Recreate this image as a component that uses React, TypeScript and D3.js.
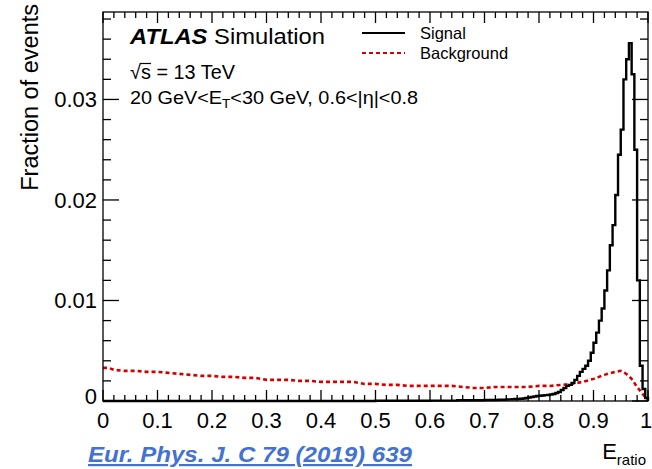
import React from "react";
import * as d3 from "d3";

// ---- Data ----
// Signal histogram: bin left edges and fractions (0.005 bins near peak)
const signalEdges: number[] = [
  0.0, 0.1, 0.2, 0.3, 0.4, 0.5, 0.6, 0.65, 0.7, 0.705, 0.71, 0.715, 0.72, 0.725, 0.73, 0.735,
  0.74, 0.745, 0.75, 0.755, 0.76, 0.765, 0.77, 0.775, 0.78, 0.785, 0.79, 0.795,
  0.8, 0.805, 0.81, 0.815, 0.82, 0.825, 0.83, 0.835, 0.84, 0.845, 0.85, 0.855,
  0.86, 0.865, 0.87, 0.875, 0.88, 0.885, 0.89, 0.895, 0.9, 0.905, 0.91, 0.915,
  0.92, 0.925, 0.93, 0.935, 0.94, 0.945, 0.95, 0.955, 0.96, 0.965, 0.97, 0.975,
  0.98, 0.985, 0.99, 0.995,
];
const signalValues: number[] = [
  0.0, 0.0, 0.0, 0.0, 0.0, 0.00002, 0.00004, 0.00007, 0.0001, 0.0001, 0.0001, 0.0001, 0.0001, 0.00012, 0.00012, 0.00014,
  0.00015, 0.00016, 0.00018, 0.0002, 0.0002, 0.00022, 0.00025, 0.0003, 0.00035, 0.0004, 0.00045, 0.0005,
  0.00052, 0.00055, 0.00058, 0.0006, 0.00065, 0.0007, 0.0008, 0.0009, 0.0011, 0.0013, 0.0015, 0.0016,
  0.0018, 0.0021, 0.0025, 0.0029, 0.0032, 0.0035, 0.004, 0.0048, 0.0058, 0.0068, 0.008, 0.0092,
  0.011, 0.013, 0.0155, 0.0175, 0.0205, 0.0245, 0.027, 0.032, 0.034, 0.0356, 0.0325, 0.025,
  0.012, 0.0035, 0.0012, 0.0003,
];
// Background: bin positions and fractions
const backgroundX: number[] = [
  0.0, 0.01, 0.02, 0.04, 0.06, 0.08, 0.1, 0.12, 0.14, 0.16, 0.18, 0.2, 0.22, 0.24, 0.26, 0.28,
  0.3, 0.32, 0.34, 0.36, 0.38, 0.4, 0.42, 0.44, 0.46, 0.48, 0.5, 0.52, 0.54, 0.56, 0.58, 0.6,
  0.62, 0.64, 0.66, 0.68, 0.7, 0.72, 0.74, 0.76, 0.78, 0.8, 0.82, 0.84, 0.86, 0.88, 0.9, 0.92,
  0.94, 0.95, 0.96, 0.97, 0.98, 0.99, 1.0,
];
const backgroundValues: number[] = [
  0.0033, 0.0033, 0.0031, 0.003, 0.003, 0.0029, 0.0029, 0.0028, 0.0027, 0.0026, 0.0025, 0.0025, 0.0024, 0.0024, 0.0023, 0.0023,
  0.0021, 0.0021, 0.0021, 0.002, 0.002, 0.0019, 0.0019, 0.0019, 0.0019, 0.0017, 0.0017, 0.0016, 0.0016, 0.0015, 0.0015, 0.0015,
  0.0015, 0.0015, 0.0014, 0.0013, 0.0013, 0.0014, 0.0014, 0.0014, 0.0014, 0.0015, 0.0015, 0.0016, 0.0017, 0.0019, 0.0022, 0.0026,
  0.0029, 0.003, 0.0027, 0.0022, 0.0014, 0.0007, 0.0001,
];
const xTicks: number[] = [0, 0.1, 0.2, 0.3, 0.4, 0.5, 0.6, 0.7, 0.8, 0.9, 1];
const xTickLabels: string[] = ["0", "0.1", "0.2", "0.3", "0.4", "0.5", "0.6", "0.7", "0.8", "0.9", "1"];
const yTicks: number[] = [0, 0.01, 0.02, 0.03];
const yTickLabels: string[] = ["0", "0.01", "0.02", "0.03"];
const seriesNames: string[] = ["Signal", "Background"];

const W = 652;
const H = 469;
const FONT = "'Liberation Sans', Arial, Helvetica, sans-serif";

export default function App() {
  const x = d3.scaleLinear().domain([0, 1]).range([103, 648]);
  const y = d3.scaleLinear().domain([0, 0.0387]).range([401, 12]);
  const [x0, x1] = x.range();
  const [y0, y1] = y.range();

  // signal step path
  const sigPts: [number, number][] = [];
  signalEdges.forEach((e, i) => {
    const next = i + 1 < signalEdges.length ? signalEdges[i + 1] : 1;
    sigPts.push([e, signalValues[i]]);
    sigPts.push([next, signalValues[i]]);
  });
  sigPts.push([1, 0]);
  const line = d3
    .line<[number, number]>()
    .x((d) => x(d[0]))
    .y((d) => y(d[1]));
  const sigPath = line(sigPts) || "";
  const bgPath =
    line(backgroundX.map((v, i) => [v, backgroundValues[i]] as [number, number])) || "";

  const xMinor = d3.range(0, 1.0001, 0.02);
  const yMinor = d3.range(0, 0.0387, 0.002);

  const tickEls: React.ReactNode[] = [];
  xMinor.forEach((v, i) => {
    const major = i % 5 === 0;
    const L = major ? 11 : 6;
    const px = x(v);
    tickEls.push(<line key={"xb" + i} x1={px} x2={px} y1={y0} y2={y0 - L} />);
    tickEls.push(<line key={"xt" + i} x1={px} x2={px} y1={y1} y2={y1 + L} />);
  });
  yMinor.forEach((v, i) => {
    const major = i % 5 === 0;
    const L = major ? 16 : 8;
    const py = y(v);
    tickEls.push(<line key={"yl" + i} x1={x0} x2={x0 + L} y1={py} y2={py} />);
    tickEls.push(<line key={"yr" + i} x1={x1} x2={x1 - L} y1={py} y2={py} />);
  });

  return (
    <svg
      width={W}
      height={H}
      style={{ position: "absolute", left: 0, top: 0, background: "#fff" }}
      fontFamily={FONT}
    >
      <rect x={0} y={0} width={W} height={H} fill="#fff" />
      {/* curves */}
      <path d={bgPath} fill="none" stroke="#d40000" strokeWidth={2.6} strokeDasharray="4,3" />
      <path d={sigPath} fill="none" stroke="#000" strokeWidth={2.4} strokeLinejoin="miter" />
      {/* frame */}
      <g stroke="#000" strokeWidth={1.3}>
        {tickEls}
        <rect x={x0} y={y1} width={x1 - x0} height={y0 - y1} fill="none" />
      </g>
      {/* tick labels */}
      {xTicks.map((v, i) => (
        <text
          key={"xl" + i}
          x={i === xTicks.length - 1 ? x(v) - 2 : x(v)}
          y={428}
          fontSize={22}
          textAnchor="middle"
          fill="#000"
        >
          {xTickLabels[i]}
        </text>
      ))}
      {yTicks.map((v, i) => (
        <text
          key={"yl" + i}
          x={97}
          y={y(v) + (i === 0 ? 3 : 8)}
          fontSize={22}
          textAnchor="end"
          fill="#000"
        >
          {yTickLabels[i]}
        </text>
      ))}
      {/* axis titles */}
      <text
        transform="translate(38,4) rotate(-90)"
        fontSize={23.5}
        textAnchor="end"
        fill="#000"
      >
        Fraction of events
      </text>
      <text x={646} y={459} fontSize={22} textAnchor="end" fill="#000">
        E<tspan fontSize={15} dy={6}>ratio</tspan>
      </text>
      {/* ATLAS label */}
      <text x={130} y={44} fontSize={22} fill="#000" textLength={195} lengthAdjust="spacingAndGlyphs">
        <tspan fontWeight="bold" fontStyle="italic">ATLAS</tspan>
        <tspan> Simulation</tspan>
      </text>
      <text x={130} y={79} fontSize={20} fill="#000">
        √
      </text>
      <line x1={140} x2={151} y1={63.5} y2={63.5} stroke="#000" strokeWidth={1.2} />
      <text x={141} y={79} fontSize={20} fill="#000" textLength={94} lengthAdjust="spacingAndGlyphs">
        s = 13 TeV
      </text>
      <text x={130} y={104} fontSize={19} fill="#000" textLength={288} lengthAdjust="spacingAndGlyphs">
        20 GeV&lt;E<tspan fontSize={13} dy={4}>T</tspan>
        <tspan dy={-4}>&lt;30 GeV, 0.6&lt;|η|&lt;0.8</tspan>
      </text>
      {/* legend */}
      <line x1={362} x2={405} y1={33} y2={33} stroke="#000" strokeWidth={2.2} />
      <text x={420} y={39} fontSize={16.5} fill="#000">
        {seriesNames[0]}
      </text>
      <line
        x1={362}
        x2={405}
        y1={53}
        y2={53}
        stroke="#d40000"
        strokeWidth={2.2}
        strokeDasharray="4,3"
      />
      <text x={420} y={59} fontSize={16.5} fill="#000">
        {seriesNames[1]}
      </text>
      {/* reference */}
      <text
        x={88}
        y={462}
        fontSize={22}
        fontWeight="bold"
        fontStyle="italic"
        fill="#4472d0"
        textDecoration="underline"
        textLength={324}
        lengthAdjust="spacingAndGlyphs"
      >
        Eur. Phys. J. C 79 (2019) 639
      </text>
    </svg>
  );
}
